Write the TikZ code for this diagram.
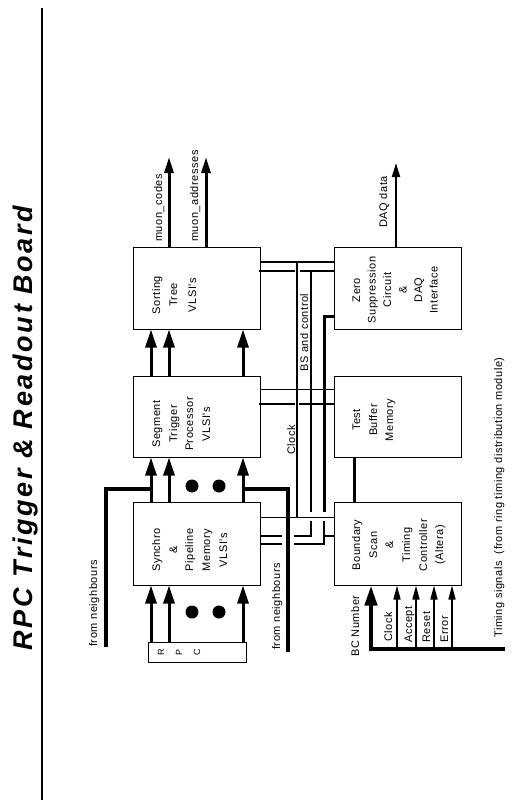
\documentclass[tikz,border=0pt]{standalone}
\usepackage{fontspec}
\setmainfont{Liberation Sans}
\newfontfamily\lsf{Liberation Sans}[LetterSpace=5]
\newfontfamily\tsf{Liberation Sans}[LetterSpace=10]
\usetikzlibrary{arrows.meta}
\begin{document}
\begin{tikzpicture}[x=1pt,y=-1pt,
  box/.style={draw, line width=1pt, inner sep=0pt, minimum width=127pt},
  t/.style={rotate=90, anchor=base, inner sep=0pt, font=\lsf\fontsize{11}{13}\selectfont},
  tl/.style={t, anchor=base west},
  arr/.style={line width=3pt, -{Triangle[length=18pt,width=11pt]}},
  arrout/.style={line width=3pt, -{Triangle[length=16pt,width=9pt]}},
  arrthin/.style={line width=1.5pt, -{Triangle[length=14pt,width=7pt]}},
  arrbc/.style={line width=4pt, -{Triangle[length=20pt,width=12pt]}},
  nb/.style={line width=4pt},
  bus/.style={line width=2pt},
  bush/.style={line width=2.5pt},
  sig/.style={line width=1pt},
  dot/.style={circle, fill, inner sep=0pt, minimum size=13pt}
]
\useasboundingbox (0,0) rectangle (515,812);

% title
\node[t, font=\tsf\fontsize{27}{30}\selectfont\bfseries\itshape] (title) at (32,428) {RPC Trigger \& Readout Board};
\coordinate (ltop) at (42,8);
\coordinate (lbot) at (42,800);
\draw[line width=2pt] (ltop) -- (lbot);

% boxes
\node[box, minimum height=82pt] (sort) at (196.5,288) {};
\node[box, minimum height=81pt] (seg)  at (196.5,416.5) {};
\node[box, minimum height=83pt] (sync) at (196.5,543.5) {};
\node[box, minimum height=82pt] (zero) at (397.5,288) {};
\node[box, minimum height=81pt] (tbm)  at (397.5,416.5) {};
\node[box, minimum height=83pt] (bsc)  at (397.5,543.5) {};
\node[draw, line width=1pt, inner sep=0pt, minimum width=98pt, minimum height=20pt] (rpc) at (197,652) {};

% box texts
\node[t] at (160,295) {Sorting};
\node[t] at (177,295) {Tree};
\node[t] at (196,295) {VLSI's};

\node[t] at (160,424) {Segment};
\node[t] at (177,424) {Trigger};
\node[t] at (193,424) {Processor};
\node[t] at (210,424) {VLSI's};

\node[t] at (160,550) {Synchro};
\node[t] at (177,550) {\&};
\node[t] at (193,550) {Pipeline};
\node[t] at (210,550) {Memory};
\node[t] at (227,550) {VLSI's};

\node[t] at (360,290) {Zero};
\node[t] at (375.5,290) {Suppression};
\node[t] at (391,290) {Circuit};
\node[t] at (406.5,290) {\&};
\node[t] at (422,290) {DAQ};
\node[t] at (437.5,290) {Interface};

\node[t] at (360,420) {Test};
\node[t] at (377,420) {Buffer};
\node[t] at (393,420) {Memory};

\node[t] at (360,545) {Boundary};
\node[t] at (377,545) {Scan};
\node[t] at (393,545) {\&};
\node[t] at (410,545) {Timing};
\node[t] at (427,545) {Controller};
\node[t] at (443,545) {(Altera)};

\node[t, font=\lsf\fontsize{9}{11}\selectfont] at (164,652) {R};
\node[t, font=\lsf\fontsize{9}{11}\selectfont] at (182,652) {P};
\node[t, font=\lsf\fontsize{9}{11}\selectfont] at (200,652) {C};

% outside labels
\node[tl] at (162,242) {muon\_codes};
\node[tl] at (198,242) {muon\_addresses};
\node[tl] at (387,228) {DAQ data};
\node[tl] at (97,647) {from neighbours};
\node[tl] at (280,650) {from neighbours};
\node[tl] at (308,372) {BS and control};
\node[tl] at (295,455) {Clock};
\node[tl] at (359,657) {BC Number};
\node[tl] at (392,642) {Clock};
\node[tl] at (412,643) {Accept};
\node[tl] at (430,643) {Reset};
\node[tl] at (448,643) {Error};
\node[tl] at (502,638) {Timing signals\ \ (from ring timing distribution module)};

% dots
\node[dot] (d1) at (192,486) {};
\node[dot] (d2) at (219,486) {};
\node[dot] (d3) at (192,612) {};
\node[dot] (d4) at (219,612) {};

% inter-column buses
\draw[bus] (sort.east |- 0,262) -- (zero.west |- 0,262);
\draw[bus] (297,262) -- (297,517);
\draw[bus] (259,271) -- (295,271);
\draw[bus] (300,271) -- (zero.west |- 0,271);
\draw[bus] (311,271) -- (311,512);
\draw[bush] (311,521) -- (311,536) -- (294,536);
\draw[bush] (sync.east |- 0,536) -- (282,536);
\draw[line width=3pt] (zero.west |- 0,316) -- (324,316) -- (324,512);
\draw[bush] (324,521) -- (324,544) -- (294,544);
\draw[bush] (sync.east |- 0,544) -- (282,544);
\draw[bus] (324,536) -- (bsc.west |- 0,536);
\draw[sig] (seg.east |- 0,389) -- (tbm.west |- 0,389);
\draw[bus] (259,404) -- (295,404);
\draw[bus] (299,404) -- (335,404);
\draw[sig] (sync.east |- 0,517) -- (bsc.west |- 0,517);

% test buffer to boundary scan
\draw[line width=3pt] (354,0 |- tbm.south) -- (354,0 |- bsc.north);

% from neighbours
\draw[nb] (106,647) -- (106,489) -- (151,489);
\draw[nb] (288,652) -- (288,489) -- (243,489);

% vertical data arrows
\foreach \xx in {151,169,243} {
  \draw[arr] (\xx,0 |- rpc.north) -- (\xx,0 |- sync.south);
  \draw[arr] (\xx,0 |- sync.north) -- (\xx,0 |- seg.south);
  \draw[arr] (\xx,0 |- seg.north) -- (\xx,0 |- sort.south);
}

% outputs
\coordinate (mc) at (169,157);
\coordinate (ma) at (206,157);
\coordinate (dq) at (396,163);
\draw[arrout] (169,0 |- sort.north) -- (mc);
\draw[arrout] (206,0 |- sort.north) -- (ma);
\draw[line width=2pt, -{Triangle[length=14pt,width=8pt]}] (396,0 |- zero.north) -- (dq);

% timing signals bus
\coordinate (tbL) at (369,649);
\coordinate (tbR) at (505,649);
\draw[line width=4pt] (tbL) -- (tbR);
\draw[arrbc] (371,651) -- (371,0 |- bsc.south);
\foreach \xx in {397,416,434,452} {
  \draw[arrthin] (\xx,649) -- (\xx,0 |- bsc.south);
}
\end{tikzpicture}
\end{document}
